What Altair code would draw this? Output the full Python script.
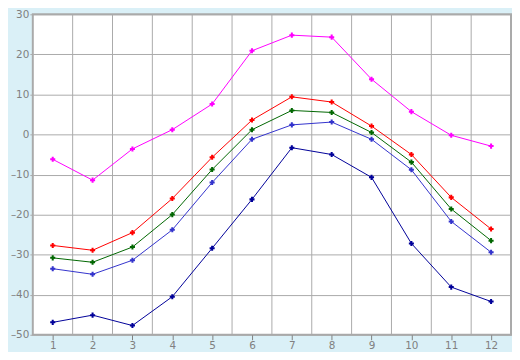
import altair as alt
import pandas as pd

months = [1, 2, 3, 4, 5, 6, 7, 8, 9, 10, 11, 12]
s_magenta = [-6.2, -11.4, -3.6, 1.2, 7.6, 20.9, 24.8, 24.3, 13.8, 5.7, -0.2, -2.9]
s_red = [-27.7, -28.9, -24.5, -16.0, -5.7, 3.6, 9.4, 8.1, 2.1, -5.0, -15.7, -23.6]
s_green = [-30.8, -31.9, -28.1, -20.0, -8.75, 1.2, 6.0, 5.5, 0.5, -6.9, -18.6, -26.5]
s_blue = [-33.5, -34.9, -31.4, -23.8, -12.0, -1.2, 2.4, 3.1, -1.2, -8.8, -21.7, -29.4]
s_navy = [-46.9, -45.1, -47.7, -40.5, -28.4, -16.2, -3.3, -5.0, -10.7, -27.2, -38.1, -41.7]

series_names = ["navy", "blue", "green", "red", "magenta"]
series_vals = [s_navy, s_blue, s_green, s_red, s_magenta]
series_colors = ["#000099", "#3333cc", "#006600", "#ff0000", "#ff00ff"]

y_ticks = [-50, -40, -30, -20, -10, 0, 10, 20, 30]
band_edges = [1.5, 2.5, 3.5, 4.5, 5.5, 6.5, 7.5, 8.5, 9.5, 10.5, 11.5]

rows = []
for name, vals in zip(series_names, series_vals):
    for m, v in zip(months, vals):
        rows.append({"month": m, "value": v, "series": name})
df = pd.DataFrame(rows)
grid_df = pd.DataFrame({"edge": band_edges})

label_color = "#808080"
grid_color = "#aaaaaa"

xscale = alt.Scale(domain=[0.5, 12.5], nice=False, zero=False)
yscale = alt.Scale(domain=[-50, 30], nice=False)
cscale = alt.Scale(domain=series_names, range=series_colors)

xaxis = alt.Axis(
    values=months,
    format="d",
    grid=False,
    domain=False,
    tickColor=label_color,
    tickSize=5,
    labelPadding=1,
    title=None,
)

vgrid = alt.Chart(grid_df).mark_rule(color=grid_color, strokeWidth=1).encode(
    x=alt.X("edge:Q", scale=xscale, axis=xaxis)
)

base = alt.Chart(df).encode(
    x=alt.X("month:Q", scale=xscale, axis=xaxis),
    y=alt.Y(
        "value:Q",
        scale=yscale,
        axis=alt.Axis(
            values=y_ticks,
            grid=True,
            gridColor=grid_color,
            gridWidth=1,
            domain=False,
            tickColor=grid_color,
            tickSize=3,
            labelPadding=1,
            labelExpr="replace(datum.label, '\u2212', '\u2013')",
            title=None,
        ),
    ),
    color=alt.Color("series:N", scale=cscale, legend=None),
    detail="series:N",
)

lines = base.mark_line(strokeWidth=1)
points = base.mark_point(shape="cross", filled=True, size=26, opacity=1)

chart = (
    alt.layer(vgrid, lines, points)
    .properties(
        width=482,
        height=323,
        autosize=alt.AutoSizeParams(type="none"),
        padding={"left": 25, "top": 5, "right": 1, "bottom": 16},
        background="#daf0f7",
    )
    .configure_view(fill="white", stroke=grid_color, strokeWidth=2)
    .configure_axis(
        labelColor=label_color,
        labelFont="DejaVu Sans",
        labelFontSize=10.5,
    )
)

chart.save("out.html", embed_options={"renderer": "svg", "actions": False})
